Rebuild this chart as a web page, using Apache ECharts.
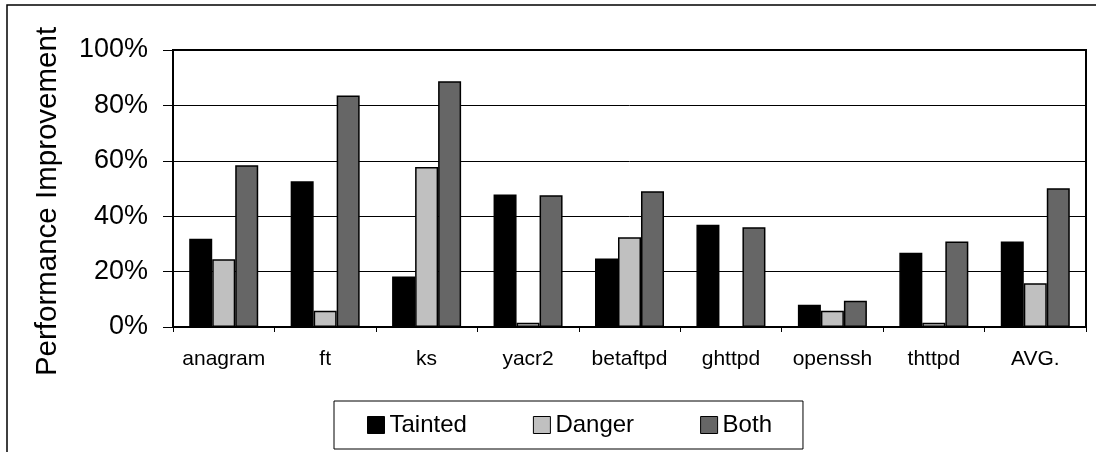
<!DOCTYPE html>
<html>
<head>
<meta charset="utf-8">
<script src="https://cdn.jsdelivr.net/npm/echarts@6/dist/echarts.min.js"></script>
<style>
  html, body { margin: 0; padding: 0; background: #fff; }
  #chart { width: 1096px; height: 452px; }
</style>
</head>
<body>
<div id="chart"></div>
<script>
// benchmarks on the x axis
var categories = ['anagram', 'ft', 'ks', 'yacr2', 'betaftpd', 'ghttpd', 'openssh', 'thttpd', 'AVG.'];
// performance improvement in %
var tainted = [31.9, 52.6, 18.2, 47.8, 24.7, 36.9, 8.0, 26.8, 30.9];
var danger  = [24.5, 5.9, 57.8, 1.5, 32.4, 0, 5.9, 1.5, 15.8];
var both    = [58.4, 83.6, 88.7, 47.6, 49.0, 36.0, 9.5, 30.9, 50.1];
var yTicks = [0, 20, 40, 60, 80, 100];

var font = 'Liberation Sans, Arial, sans-serif';

function barSeries(name, data, color) {
    return {
        name: name,
        type: 'bar',
        data: data,
        barWidth: 23,
        barGap: '0%',
        itemStyle: { color: color, borderColor: '#000', borderWidth: 1.5 }
    };
}

var chart = echarts.init(document.getElementById('chart'));
var option = {
    animation: false,
    backgroundColor: '#fff',
    textStyle: { fontFamily: font, color: '#000' },
    graphic: [
        {   // outer frame (only top and left visible)
            type: 'rect',
            shape: { x: 7, y: 5, width: 1200, height: 600 },
            style: { fill: 'none', stroke: '#000', lineWidth: 1.5 },
            silent: true
        }
    ],
    grid: {
        left: 173, right: 10, top: 50, bottom: 125,
        show: true, borderColor: '#000', borderWidth: 2
    },
    legend: {
        data: ['Tainted', 'Danger', 'Both'],
        left: 334, top: 401,
        icon: 'rect',
        itemWidth: 17, itemHeight: 17,
        itemGap: 66,
        padding: [12, 31, 12, 33],
        borderColor: '#000', borderWidth: 1,
        itemStyle: { borderColor: '#000', borderWidth: 1 },
        textStyle: { fontFamily: font, fontSize: 24, color: '#000' }
    },
    xAxis: {
        type: 'category',
        data: categories,
        axisLine: { lineStyle: { color: '#000', width: 2 } },
        axisTick: { show: true, length: 5, lineStyle: { color: '#000' } },
        axisLabel: { interval: 0, fontFamily: font, fontSize: 21, color: '#000', margin: 22 }
    },
    yAxis: {
        type: 'value',
        min: yTicks[0], max: yTicks[yTicks.length - 1], interval: 20,
        name: 'Performance Improvement',
        nameLocation: 'middle',
        nameRotate: 90,
        nameGap: 110,
        nameTextStyle: { fontFamily: font, fontSize: 29.5, color: '#000', padding: [0, 26, 0, 0] },
        axisLine: { show: true, lineStyle: { color: '#000', width: 2 } },
        axisTick: { show: true, length: 10, lineStyle: { color: '#000' } },
        axisLabel: { fontFamily: font, fontSize: 27, color: '#000', margin: 25, formatter: '{value}%' },
        splitLine: { lineStyle: { color: '#000', width: 1 } }
    },
    series: [
        barSeries('Tainted', tainted, '#000000'),
        barSeries('Danger', danger, '#c0c0c0'),
        barSeries('Both', both, '#666666')
    ]
};
chart.setOption(option);
</script>
</body>
</html>
